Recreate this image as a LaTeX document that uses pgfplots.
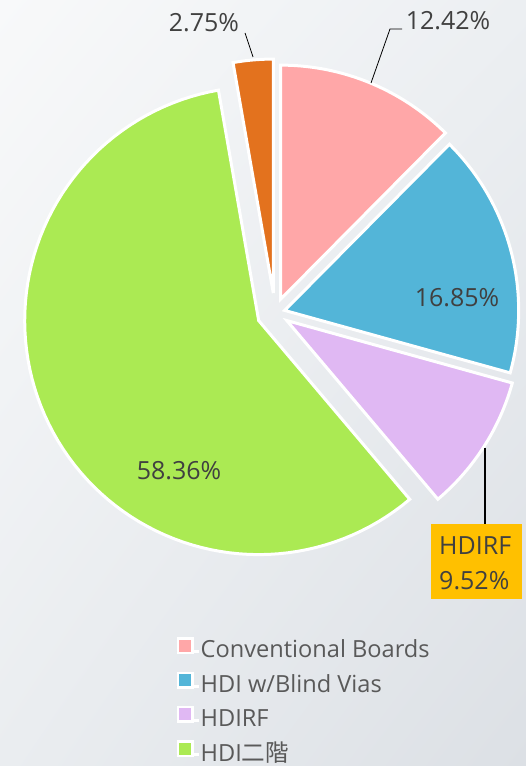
\documentclass[border=0pt]{standalone}
\usepackage{fontspec}
\setmainfont{Open Sans}
\newfontfamily\cjk{Noto Sans CJK TC}
\usepackage{pgfplots}
\pgfplotsset{compat=1.18}
\usetikzlibrary{shadings}

\definecolor{pinkc}{RGB}{255,167,168}
\definecolor{bluec}{RGB}{83,181,216}
\definecolor{purplec}{RGB}{224,184,243}
\definecolor{greenc}{RGB}{171,234,83}
\definecolor{orangec}{RGB}{227,114,30}
\definecolor{boxc}{RGB}{255,192,0}
\definecolor{labc}{RGB}{64,64,64}
\definecolor{legc}{RGB}{89,89,89}
\definecolor{bgA}{RGB}{248,249,250}
\definecolor{bgB}{RGB}{236,239,242}
\definecolor{bgC}{RGB}{234,237,240}
\definecolor{bgD}{RGB}{220,224,229}

% pie geometry, in pixels of the picture (origin bottom left)
\def\cx{275}\def\cy{453}\def\R{234}\def\total{99.9}
\gdef\cum{0}

% one slice: value, explode distance, colour
\newcommand{\pieslice}[3]{%
  \pgfmathsetmacro\angA{90-(360/\total)*\cum}%
  \pgfmathsetmacro\angB{90-(360/\total)*(\cum+#1)}%
  \pgfmathsetmacro\angM{(\angA+\angB)/2}%
  \pgfmathsetmacro\ox{\cx+#2*cos(\angM)}%
  \pgfmathsetmacro\oy{\cy+#2*sin(\angM)}%
  \edef\doslice{\noexpand\addplot[fill=#3, draw=white, line width=3pt,
      domain=\angB:\angA, samples=90]
    ({\ox+\R*cos(x)},{\oy+\R*sin(x)}) -- (axis cs:\ox,\oy) -- cycle;}%
  \doslice
  \pgfmathsetmacro\newcum{\cum+#1}%
  \xdef\cum{\newcum}%
}

\newcommand{\lab}{\fontsize{25}{30}\selectfont}

\begin{document}
\begin{tikzpicture}
\begin{axis}[
  scale only axis, width=526pt, height=766pt,
  xmin=0, xmax=526, ymin=0, ymax=766,
  hide axis, clip=false,
  legend cell align=left,
  legend style={at={(axis cs:175,129)}, anchor=north west,
    draw=none, fill=none, inner sep=0pt, row sep=7.6pt,
    font=\fontsize{23.6}{28}\selectfont, text=legc,
    nodes={inner sep=0pt, text height=18pt, text depth=6pt}},
  legend image code/.code={%
    \path (0pt,0pt) -- (22.5pt,0pt);
    \draw[#1, line width=2.5pt] (1.25pt,-1pt) rectangle (15.75pt,13.5pt);},
  legend entries={Conventional Boards, HDI w/Blind Vias, HDIRF, HDI{\cjk 二階}},
]
\shade[upper left=bgA, upper right=bgB, lower left=bgC, lower right=bgD]
  (axis cs:0,0) rectangle (axis cs:526,766);

\pieslice{12.42}{15}{pinkc}
\pieslice{16.85}{10}{bluec}
\pieslice{9.52}{14}{purplec}
\pieslice{58.36}{18}{greenc}
\pieslice{2.75}{20}{orangec}

% data labels
\node[inner sep=0pt, text=labc, font=\lab] at (axis cs:204,743) {2.75\%};
\draw[black, line width=0.8pt] (axis cs:245,733) -- (axis cs:253,709);
\node[inner sep=0pt, text=labc, font=\lab] at (axis cs:448,745) {12.42\%};
\draw[black, line width=0.8pt] (axis cs:402,737) -- (axis cs:390,737) -- (axis cs:371,683);
\node[inner sep=0pt, text=labc, font=\lab] at (axis cs:457,468) {16.85\%};
\node[inner sep=0pt, text=labc, font=\lab] at (axis cs:179,295) {58.36\%};
\draw[black, line width=2pt] (axis cs:485,318) -- (axis cs:485,242);
\fill[boxc] (axis cs:431,242) rectangle (axis cs:522,167);
\node[inner sep=0pt, anchor=base west, text=labc, font=\lab] at (axis cs:439,211) {HDIRF};
\node[inner sep=0pt, anchor=base west, text=labc, font=\lab] at (axis cs:439,176) {9.52\%};
\end{axis}
\pgfresetboundingbox
\useasboundingbox (current axis.south west) rectangle (current axis.north east);
\end{tikzpicture}
\end{document}
